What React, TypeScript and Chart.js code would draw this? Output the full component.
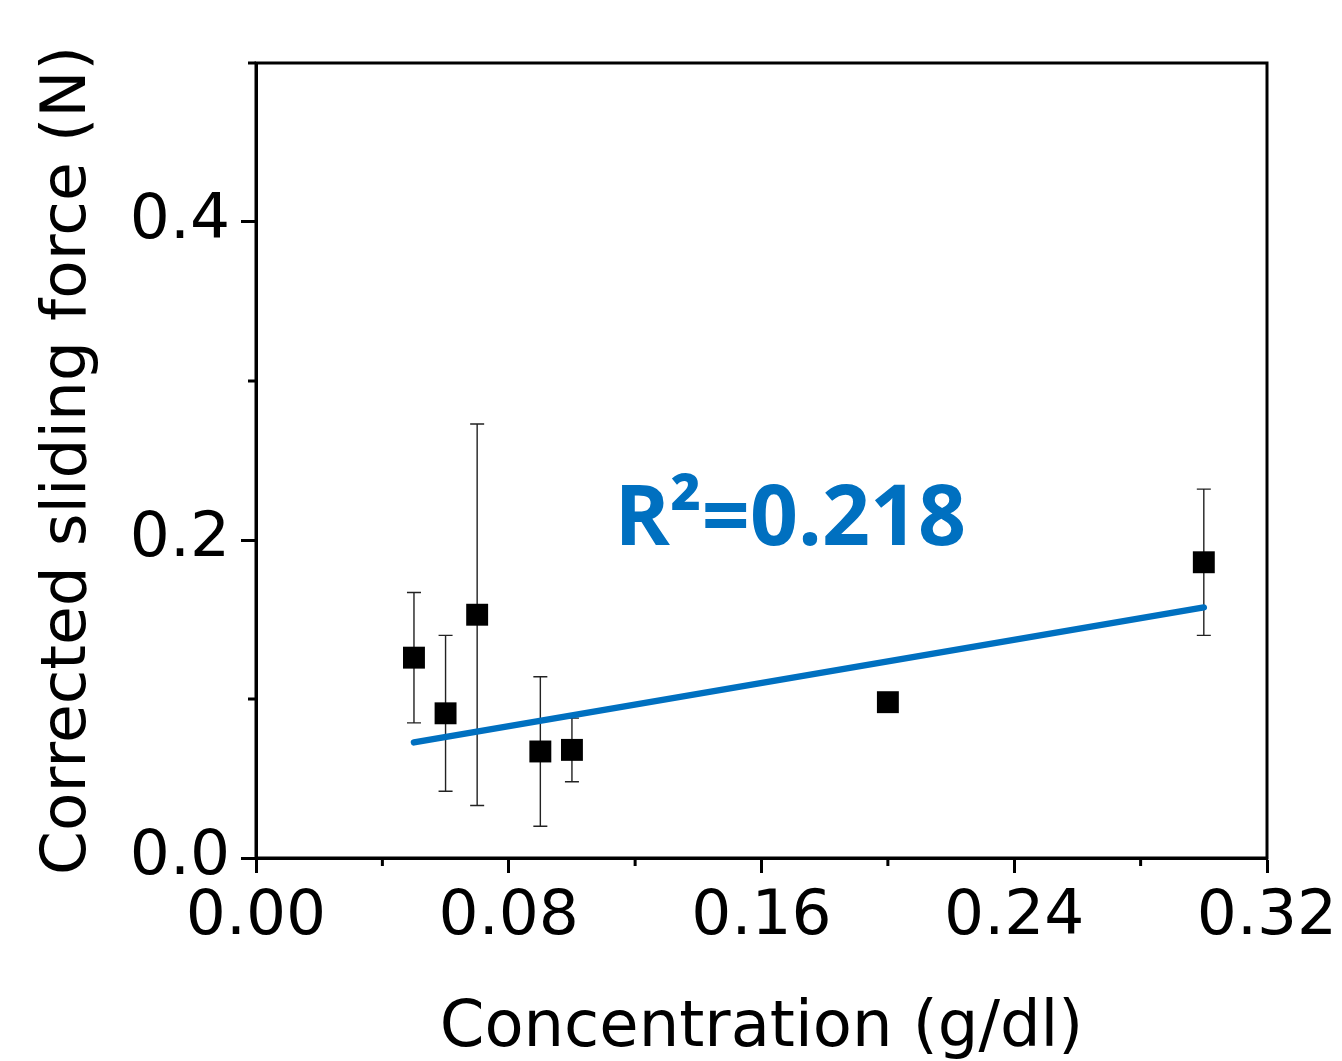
import React, { useEffect, useRef } from "react";
import { Chart, registerables } from "chart.js";

Chart.register(...registerables);

// ---- data ----
const concentration = [0.05, 0.06, 0.07, 0.09, 0.1, 0.2, 0.3];
const slidingForce = [0.126, 0.091, 0.153, 0.067, 0.068, 0.098, 0.186];
const forceError = [0.041, 0.049, 0.12, 0.047, 0.02, 0, 0.046];

const fitX = [0.05, 0.3];
const fitY = [0.0727, 0.1576];

const xMajorTicks = [0, 0.08, 0.16, 0.24, 0.32];
const xMinorTicks = [0.04, 0.12, 0.2, 0.28];
const yMajorTicks = [0, 0.2, 0.4];
const yMinorTicks = [0.1, 0.3, 0.5];

const annotationText = "R\u00B2=0.218";
const annotationX = 0.1135;
const annotationY = 0.197;

const xTitle = "Concentration (g/dl)";
const yTitle = "Corrected sliding force (N)";

const FONT = "'DejaVu Sans', Verdana, sans-serif";
const BLUE = "#0070c0";

const framePlugin = {
  id: "frame",
  beforeDatasetsDraw(chart: any) {
    const ctx = chart.ctx;
    const ys = chart.scales.y;
    const xs = chart.scales.x;
    ctx.save();
    ctx.strokeStyle = "#222";
    ctx.lineWidth = 1.4;
    for (let i = 0; i < concentration.length; i++) {
      const e = forceError[i];
      if (!e) continue;
      const px = xs.getPixelForValue(concentration[i]);
      const pTop = ys.getPixelForValue(slidingForce[i] + e);
      const pBot = ys.getPixelForValue(slidingForce[i] - e);
      ctx.beginPath();
      ctx.moveTo(px, pTop);
      ctx.lineTo(px, pBot);
      ctx.moveTo(px - 7, pTop);
      ctx.lineTo(px + 7, pTop);
      ctx.moveTo(px - 7, pBot);
      ctx.lineTo(px + 7, pBot);
      ctx.stroke();
    }
    ctx.restore();
  },
  afterDraw(chart: any) {
    const ctx = chart.ctx;
    const { left, right, top, bottom } = chart.chartArea;
    const xs = chart.scales.x;
    const ys = chart.scales.y;
    ctx.save();
    ctx.strokeStyle = "#000";
    ctx.lineWidth = 3;
    ctx.strokeRect(left, top, right - left, bottom - top);
    ctx.beginPath();
    for (const v of xMinorTicks) {
      const px = xs.getPixelForValue(v);
      ctx.moveTo(px, bottom);
      ctx.lineTo(px, bottom + 8);
    }
    for (const v of yMinorTicks) {
      const py = ys.getPixelForValue(v);
      ctx.moveTo(left, py);
      ctx.lineTo(left - 8, py);
    }
    ctx.stroke();
    // annotation
    ctx.fillStyle = BLUE;
    ctx.font = "bold 84px 'Open Sans', sans-serif";
    ctx.textAlign = "left";
    ctx.textBaseline = "alphabetic";
    ctx.fillText(
      annotationText,
      xs.getPixelForValue(annotationX),
      ys.getPixelForValue(annotationY)
    );
    ctx.restore();
  },
};

export default function App() {
  const ref = useRef<HTMLCanvasElement | null>(null);

  useEffect(() => {
    document.body.style.margin = "0";
    const canvas = ref.current!;
    const chart = new Chart(canvas, {
      type: "scatter",
      data: {
        datasets: [
          {
            type: "scatter",
            data: concentration.map((x, i) => ({ x, y: slidingForce[i] })),
            pointStyle: "rect",
            pointRadius: 15.5,
            pointHoverRadius: 15.5,
            backgroundColor: "#000",
            borderColor: "#000",
            borderWidth: 0,
            order: 0,
          },
          {
            type: "line",
            data: fitX.map((x, i) => ({ x, y: fitY[i] })),
            borderColor: BLUE,
            borderWidth: 6.5,
            borderCapStyle: "round",
            pointRadius: 0,
            fill: false,
            order: 1,
          } as any,
        ],
      },
      options: {
        responsive: false,
        animation: false,
        devicePixelRatio: 1,
        layout: { padding: { top: 63, right: 75, left: 0, bottom: 0 } },
        plugins: {
          legend: { display: false },
          tooltip: { enabled: false },
        },
        scales: {
          x: {
            type: "linear",
            min: 0,
            max: 0.32,
            afterFit(scale: any) {
              scale.height = 203;
              scale.paddingLeft = 0;
              scale.paddingRight = 0;
            },
            afterBuildTicks(scale: any) {
              scale.ticks = xMajorTicks.map((v) => ({ value: v }));
            },
            border: { display: true, width: 3, color: "#000" },
            grid: {
              display: true,
              drawOnChartArea: false,
              drawTicks: true,
              tickLength: 15,
              tickWidth: 3,
              tickColor: "#000",
            },
            ticks: {
              autoSkip: false,
              maxRotation: 0,
              padding: 7,
              color: "#000",
              font: { family: FONT, size: 63 },
              callback: (v: any) => Number(v).toFixed(2),
            },
            title: {
              display: true,
              text: xTitle,
              color: "#000",
              font: { family: FONT, size: 64, lineHeight: 1 },
              padding: { top: 0, bottom: 0 },
            },
          },
          y: {
            type: "linear",
            min: 0,
            max: 0.5,
            afterFit(scale: any) {
              scale.width = 256;
              scale.paddingTop = 0;
              scale.paddingBottom = 0;
            },
            afterBuildTicks(scale: any) {
              scale.ticks = yMajorTicks.map((v) => ({ value: v }));
            },
            border: { display: true, width: 3, color: "#000" },
            grid: {
              display: true,
              drawOnChartArea: false,
              drawTicks: true,
              tickLength: 15,
              tickWidth: 3,
              tickColor: "#000",
            },
            ticks: {
              autoSkip: false,
              padding: 11,
              color: "#000",
              font: { family: FONT, size: 63 },
              callback: (v: any) => Number(v).toFixed(1),
            },
            title: {
              display: true,
              text: yTitle,
              color: "#000",
              font: { family: FONT, size: 63, lineHeight: 1 },
              padding: { top: 37, bottom: 0 },
            },
          },
        },
      },
      plugins: [framePlugin],
    });
    return () => chart.destroy();
  }, []);

  return (
    <div style={{ position: "absolute", left: 0, top: 0, width: 1342, height: 1061, background: "#fff" }}>
      <canvas ref={ref} width={1342} height={1061} />
    </div>
  );
}
